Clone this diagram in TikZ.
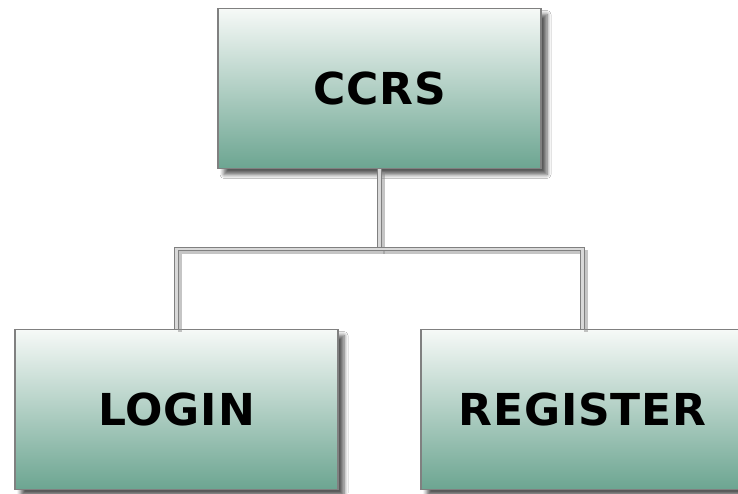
\documentclass[tikz,border=0pt]{standalone}
\usepackage{fontspec}
\setmainfont{DejaVu Sans}
\usetikzlibrary{shadows.blur}
\definecolor{boxtop}{RGB}{246,249,247}
\definecolor{boxbot}{RGB}{108,165,145}
\definecolor{edgegray}{RGB}{128,128,128}
\tikzset{
  orgbox/.style={draw=edgegray, line width=1.8pt, rectangle,
    top color=boxtop, bottom color=boxbot,
    minimum width=323pt, minimum height=160pt, inner sep=0pt,
    font=\fontsize{44}{50}\selectfont\bfseries\addfontfeature{LetterSpace=2},
    blur shadow={shadow xshift=6pt, shadow yshift=-6pt, shadow blur steps=6, shadow blur radius=4pt, shadow opacity=65}},
  linkshadow/.style={draw=black!45, line width=4pt, opacity=0.5},
  link/.style={draw=edgegray, line width=1.1pt, double=black!15, double distance=2.2pt}
}
\begin{document}
\begin{tikzpicture}[x=1pt,y=1pt]
\useasboundingbox (0,0) rectangle (738,493);
\fill[white] (0,0) rectangle (738,493);
\node[orgbox] (ccrs) at (379.5,404.5) {CCRS};
\node[orgbox] (login) at (176.5,83.5) {LOGIN};
\node[orgbox] (register) at (582.5,83.5) {REGISTER};
\coordinate (j) at (379.5,244);
\begin{scope}[transform canvas={shift={(3pt,-3pt)}}]
\draw[linkshadow] (ccrs.south) -- (j) -| (login.north);
\draw[linkshadow] (j) -| (register.north);
\end{scope}
\draw[link] (ccrs.south) -- (j);
\draw[link] (j) -| (login.north);
\draw[link] (j) -| (register.north);
\end{tikzpicture}
\end{document}
